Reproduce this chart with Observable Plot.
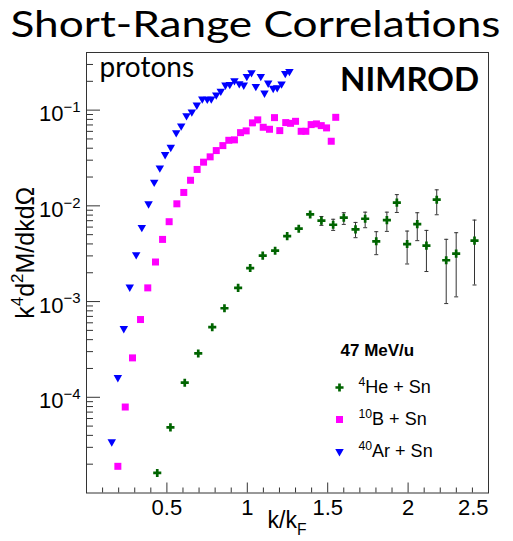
<!DOCTYPE html>
<html><head><meta charset="utf-8">
<script src="https://cdn.jsdelivr.net/npm/d3@7"></script>
<script src="https://cdn.jsdelivr.net/npm/@observablehq/plot@0.6"></script>
<style>body{margin:0;background:#fff}</style>
</head><body><div id="chart"></div>
<script>
// ---- data (k/kF , k^4 d2M/dk dOmega) ----
const arX = [0.157,0.195,0.232,0.269,0.309,0.344,0.386,0.421,0.456,0.489,0.524,0.558,0.589,0.622,0.655,0.686,0.720,0.751,0.776,0.807,0.835,0.864,0.891,0.920,0.950,0.978,0.997,1.026,1.053,1.084,1.107,1.130,1.161,1.186,1.213,1.236,1.262];
const arY = [3.43e-5,1.61e-4,5.23e-4,1.42e-3,3.09e-3,5.95e-3,1.05e-2,1.77e-2,2.49e-2,3.44e-2,4.09e-2,5.82e-2,6.84e-2,8.77e-2,9.57e-2,0.113,0.131,0.130,0.131,0.144,0.158,0.183,0.186,0.203,0.189,0.183,0.225,0.246,0.177,0.225,0.151,0.192,0.169,0.172,0.188,0.242,0.254];

const bX = [0.195,0.241,0.286,0.336,0.381,0.429,0.473,0.514,0.562,0.605,0.647,0.688,0.728,0.769,0.807,0.848,0.885,0.920,0.958,0.993,1.032,1.065,1.099,1.138,1.169,1.202,1.239,1.269,1.300,1.335,1.364,1.397,1.430,1.460,1.493,1.522,1.550];
const bY = [1.90e-5,7.91e-5,2.58e-4,6.49e-4,1.39e-3,2.59e-3,4.46e-3,6.83e-3,1.05e-2,1.38e-2,1.85e-2,2.40e-2,2.86e-2,3.25e-2,3.78e-2,4.26e-2,4.84e-2,4.89e-2,5.82e-2,6.07e-2,7.36e-2,7.91e-2,6.62e-2,6.31e-2,8.35e-2,6.11e-2,7.41e-2,7.28e-2,7.64e-2,6.01e-2,6.01e-2,7.06e-2,7.18e-2,6.89e-2,6.52e-2,4.73e-2,8.41e-2];

const heX = [0.440,0.522,0.611,0.695,0.782,0.858,0.943,1.018,1.096,1.173,1.248,1.320,1.391,1.461,1.534,1.600,1.673,1.733,1.802,1.868,1.930,1.994,2.057,2.114,2.178,2.237,2.299,2.413];
const heY = [1.62e-5,4.85e-5,1.42e-4,2.87e-4,5.40e-4,8.51e-4,1.39e-3,2.24e-3,3.02e-3,3.40e-3,4.83e-3,5.77e-3,8.13e-3,7.00e-3,6.35e-3,7.52e-3,5.68e-3,7.33e-3,4.26e-3,7.10e-3,1.08e-2,3.99e-3,6.44e-3,3.84e-3,1.16e-2,2.70e-3,3.17e-3,4.33e-3];
const heLo = [null,null,null,null,null,null,null,null,null,null,null,null,null,6.25e-3,5.54e-3,6.40e-3,4.65e-3,5.91e-3,3.09e-3,5.41e-3,8.53e-3,2.47e-3,4.33e-3,2.06e-3,8.07e-3,9.53e-4,1.12e-3,1.49e-3];
const heHi = [null,null,null,null,null,null,null,null,null,null,null,null,null,7.74e-3,7.24e-3,8.47e-3,6.71e-3,8.59e-3,5.37e-3,8.59e-3,1.31e-2,5.45e-3,8.47e-3,5.54e-3,1.47e-2,4.47e-3,5.24e-3,7.10e-3];

const xTickValues = [0.5, 1, 1.5, 2, 2.5];
const xTickLabels = ["0.5", "1", "1.5", "2", "2.5"];
const yTickValues = [1e-4, 1e-3, 1e-2, 1e-1];
const yTickLabels = ["10^{\u22124}", "10^{\u22123}", "10^{\u22122}", "10^{\u22121}"];
const seriesNames = ["^{4}He + Sn", "^{10}B + Sn", "^{40}Ar + Sn"];
const titleText = "Short-Range Correlations";
const particleText = "protons";
const detectorText = "NIMROD";
const energyText = "47 MeV/u";
const xTitle = "k/k_{F}";
const yTitle = "k^{4}d^{2}M/dkd\u03A9";

// ---- layout ----
const W = 513, H = 541, mL = 86, mR = 25, mT = 52, mB = 48.5;
const pw = W - mL - mR, ph = H - mT - mB;
const cGreen = "#006400", cMag = "#ff00ff", cBlue = "#0000ff", cAxis = "#333";
const AX = "Liberation Sans, Arial, Helvetica, sans-serif";
const CAL = "Lato, 'Open Sans', sans-serif";

const ar = arX.map((x, i) => ({x, y: arY[i]}));
const b = bX.map((x, i) => ({x, y: bY[i]}));
const he = heX.map((x, i) => ({x, y: heY[i], lo: heLo[i], hi: heHi[i]}));
const heErr = he.filter(d => d.lo != null);
const heCaps = heErr.flatMap(d => [{x: d.x, y: d.lo}, {x: d.x, y: d.hi}]);

const xMinor = d3.range(1, 26).filter(i => i % 5 !== 0).map(i => i / 10);
const yMinor = [];
for (let k = -5; k <= -1; k++) for (let m = 2; m <= 9; m++) {
  const v = m * Math.pow(10, k);
  if (v <= 0.4) yMinor.push(v);
}

const capSymbol = {draw(ctx, size) { const w = Math.sqrt(size) / 2; ctx.moveTo(-w, 0); ctx.lineTo(w, 0); }};

const legendRows = [
  {name: seriesNames[0], symbol: "cross", r: 3.4, fill: cGreen, rotate: 0},
  {name: seriesNames[1], symbol: "square", r: 3.95, fill: cMag, rotate: 0},
  {name: seriesNames[2], symbol: "triangle", r: 3.15, fill: cBlue, rotate: 180}
];

const marks = [
  Plot.frame({stroke: cAxis, strokeWidth: 1}),
  // ticks (inward, ROOT style)
  Plot.tickX(xMinor, {x: d => d, insetTop: ph - 5, stroke: cAxis}),
  Plot.tickX(xTickValues, {x: d => d, insetTop: ph - 10, stroke: cAxis}),
  Plot.tickY(yMinor, {y: d => d, insetRight: pw - 7, stroke: cAxis}),
  Plot.tickY(yTickValues, {y: d => d, insetRight: pw - 14, stroke: cAxis}),
  // tick labels
  Plot.text(xTickValues.slice(0, 4), {x: d => d, text: (d, i) => xTickLabels[i], frameAnchor: "bottom", lineAnchor: "top", dy: 6, fontSize: 22, fontFamily: AX, fill: "#000"}),
  Plot.text(xTickValues.slice(4), {x: d => d, text: (d, i) => xTickLabels[4 + i], frameAnchor: "bottom", lineAnchor: "top", dy: 6, textAnchor: "end", fontSize: 22, fontFamily: AX, fill: "#000"}),
  Plot.text(yTickValues, {y: d => d, text: (d, i) => yTickLabels[i], frameAnchor: "left", dx: -6, dy: 4, textAnchor: "end", lineAnchor: "middle", fontSize: 22, fontFamily: AX, fill: "#000"}),
  // axis titles
  Plot.text([xTitle], {text: d => d, frameAnchor: "bottom-left", dx: 181, dy: 28, textAnchor: "start", lineAnchor: "middle", fontSize: 23, fontFamily: AX, fill: "#000"}),
  Plot.text([yTitle], {text: d => d, frameAnchor: "left", dx: -61, dy: -20, rotate: -90, textAnchor: "middle", lineAnchor: "middle", fontSize: 25, fontFamily: AX, fill: "#000"}),
  // error bars
  Plot.ruleX(heErr, {x: "x", y1: "lo", y2: "hi", stroke: "#333", strokeWidth: 1}),
  Plot.dot(heCaps, {x: "x", y: "y", symbol: capSymbol, r: 2.26, stroke: "#333", fill: "none", strokeWidth: 1}),
  // data
  Plot.dot(he, {x: "x", y: "y", symbol: "cross", r: 3.4, fill: cGreen, stroke: null}),
  Plot.dot(b, {x: "x", y: "y", symbol: "square", r: 3.95, fill: cMag, stroke: null}),
  Plot.dot(ar, {x: "x", y: "y", symbol: "triangle", rotate: 180, r: 3.15, fill: cBlue, stroke: null}),
  // annotations
  Plot.text([titleText], {text: d => d, frameAnchor: "top-left", dx: 169, dy: -15.5, textAnchor: "middle", lineAnchor: "bottom", fontSize: 37, fontFamily: CAL, fill: "#000"}),
  Plot.text([particleText], {text: d => d, frameAnchor: "top-left", dx: 13, dy: 15.7, textAnchor: "start", lineAnchor: "middle", fontSize: 28, fontFamily: CAL, fill: "#000"}),
  Plot.text([detectorText], {text: d => d, frameAnchor: "top-left", dx: 323, dy: 28, textAnchor: "middle", lineAnchor: "middle", fontSize: 33, fontWeight: "bold", fontFamily: CAL, fill: "#000"}),
  // legend
  Plot.text([energyText], {text: d => d, frameAnchor: "top-left", dx: 254, dy: 298, textAnchor: "start", lineAnchor: "middle", fontSize: 17, fontWeight: "bold", fontFamily: AX, fill: "#000"}),
  ...legendRows.flatMap((row, i) => [
    Plot.dot([row], {x: null, y: null, frameAnchor: "top-left", dx: 253, dy: 335 + 32 * i, symbol: row.symbol, r: row.r, fill: row.fill, stroke: null, rotate: row.rotate}),
    Plot.text([row], {text: d => d.name, frameAnchor: "top-left", dx: 272, dy: 335 + 32 * i, textAnchor: "start", lineAnchor: "middle", fontSize: 18, fontFamily: AX, fill: "#000"})
  ])
];

const svg = Plot.plot({
  width: W, height: H,
  marginLeft: mL, marginRight: mR, marginTop: mT, marginBottom: mB,
  style: {background: "#fff", fontFamily: AX, overflow: "visible"},
  x: {domain: [0, 2.5], axis: null},
  y: {type: "log", domain: [1e-5, 0.4], axis: null},
  marks
});
document.getElementById("chart").appendChild(svg);

d3.select(svg).selectAll("text").each(function() {
  const el = this;
  const s = el.textContent;
  // widen the Calibri-like title to the reference's span
  if (s === titleText) {
    el.setAttribute("textLength", 490);
    el.setAttribute("lengthAdjust", "spacingAndGlyphs");
    return;
  }
  // rich text: ^{...} superscript, _{...} subscript
  if (!/[\^_]\{/.test(s)) return;
  const fs = parseFloat(getComputedStyle(el).fontSize) || 16;
  const parts = s.split(/(\^\{[^}]*\}|_\{[^}]*\})/).filter(p => p.length);
  while (el.firstChild) el.removeChild(el.firstChild);
  let cur = 0;
  for (const p of parts) {
    let txt = p, target = 0, size = null;
    if (p.startsWith("^{")) { txt = p.slice(2, -1); target = -0.42 * fs; size = 0.68 * fs; }
    else if (p.startsWith("_{")) { txt = p.slice(2, -1); target = 0.28 * fs; size = 0.68 * fs; }
    const t = document.createElementNS("http://www.w3.org/2000/svg", "tspan");
    t.textContent = txt;
    if (target !== cur) t.setAttribute("dy", (target - cur).toFixed(2));
    if (size) t.setAttribute("font-size", size.toFixed(2));
    cur = target;
    el.appendChild(t);
  }
});
</script>
</body></html>
